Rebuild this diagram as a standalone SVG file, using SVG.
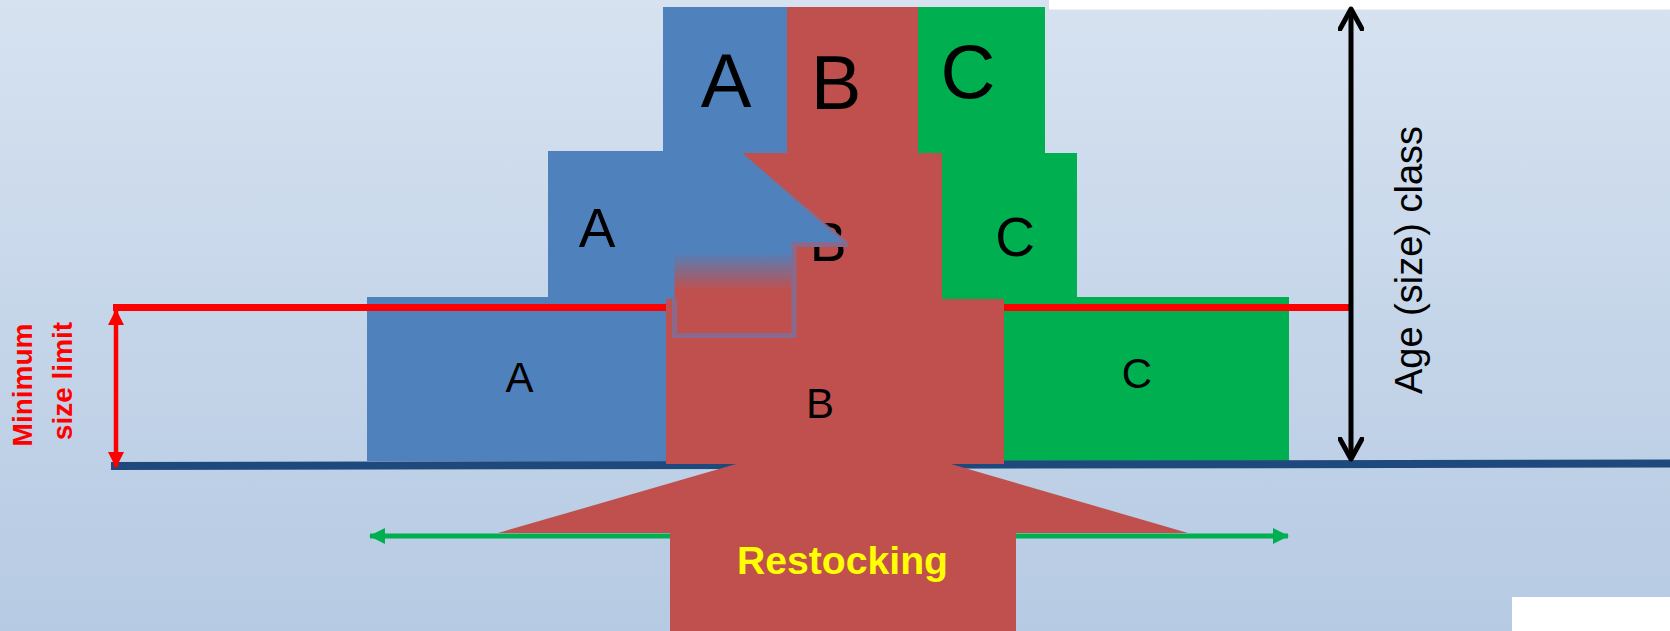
<svg xmlns="http://www.w3.org/2000/svg" width="1670" height="631" viewBox="0 0 1670 631">
  <defs>
    <linearGradient id="bg" x1="0" y1="0" x2="0" y2="1">
      <stop offset="0" stop-color="#d6e2f0"/>
      <stop offset="1" stop-color="#b6cae3"/>
    </linearGradient>
    <linearGradient id="blend" x1="0" y1="245" x2="0" y2="336" gradientUnits="userSpaceOnUse">
      <stop offset="0.08" stop-color="#4f81bd"/>
      <stop offset="0.5" stop-color="#c0504d"/>
    </linearGradient>
    <linearGradient id="edgeFade" x1="740" y1="153" x2="848" y2="244" gradientUnits="userSpaceOnUse">
      <stop offset="0.2" stop-color="#8a6a8c" stop-opacity="0"/>
      <stop offset="1" stop-color="#8a6a8c" stop-opacity="1"/>
    </linearGradient>
    <marker id="redHead" viewBox="0 0 16 16" refX="15" refY="8" markerWidth="16" markerHeight="16" markerUnits="userSpaceOnUse" orient="auto-start-reverse">
      <path d="M0,0 L16,8 L0,16 Z" fill="#ff0000"/>
    </marker>
    <marker id="greenHead" viewBox="0 0 16 16" refX="15" refY="8" markerWidth="16" markerHeight="16" markerUnits="userSpaceOnUse" orient="auto-start-reverse">
      <path d="M0,0 L16,8 L0,16 Z" fill="#00b050"/>
    </marker>
    <marker id="blackHead" viewBox="0 0 26 26" refX="22" refY="13" markerWidth="26" markerHeight="26" markerUnits="userSpaceOnUse" orient="auto-start-reverse">
      <path d="M2,2 L22,13 L2,24" fill="none" stroke="#000" stroke-width="5" stroke-linecap="round" stroke-linejoin="round"/>
    </marker>
  </defs>
  <style>
    .blue { fill: #4f81bd; }
    .red { fill: #c0504d; }
    .green { fill: #00b050; }
    .lbl { font-family: "Liberation Sans", Arial, sans-serif; fill: #000; text-anchor: middle; }
  </style>

  <!-- backdrop -->
  <rect x="0" y="0" width="1670" height="631" fill="url(#bg)"/>
  <rect x="1049" y="0" width="621" height="9.5" fill="#fff"/>
  <rect x="1512" y="597" width="158" height="34" fill="#fff"/>

  <!-- class A stack -->
  <g id="classA">
    <rect class="blue" x="663" y="7" width="124" height="146"/>
    <rect class="blue" x="367" y="297" width="299" height="164"/>
    <text class="lbl" x="726" y="107" font-size="76">A</text>
    <text class="lbl" x="519.5" y="392" font-size="42">A</text>
  </g>

  <!-- class C stack -->
  <g id="classC">
    <rect class="green" x="918" y="7" width="127" height="146"/>
    <rect class="green" x="942" y="153" width="135" height="146"/>
    <rect class="green" x="1004" y="297" width="285" height="164"/>
    <text class="lbl" x="968" y="98" font-size="76">C</text>
    <text class="lbl" x="1015" y="256" font-size="55">C</text>
    <text class="lbl" x="1137" y="388" font-size="42">C</text>
  </g>

  <!-- class B upper tiers -->
  <g id="classB-upper">
    <rect class="red" x="787" y="7" width="131" height="146"/>
    <rect class="red" x="737" y="153" width="205" height="146"/>
    <text class="lbl" x="836" y="109" font-size="76">B</text>
    <text class="lbl" x="828" y="261" font-size="55">B</text>
  </g>

  <!-- connectors: baseline, minimum size limit, axis arrows -->
  <g id="connectors">
    <line x1="111" y1="466" x2="1670" y2="463.5" stroke="#1f497d" stroke-width="8"/>
    <line x1="113" y1="307.5" x2="1351" y2="307.5" stroke="#ff0000" stroke-width="7"/>
    <line x1="116" y1="310" x2="116" y2="467" stroke="#ff0000" stroke-width="4.5" marker-start="url(#redHead)" marker-end="url(#redHead)"/>
    <line x1="1351" y1="9" x2="1351" y2="459" stroke="#000" stroke-width="5" marker-start="url(#blackHead)" marker-end="url(#blackHead)"/>
  </g>

  <!-- class A middle tier, overlapping B -->
  <g id="classA-middle">
    <path class="blue" d="M548,151 H740 L848,244 H794 V299 H548 V297 Z"/>
    <text class="lbl" x="597" y="247" font-size="55">A</text>
  </g>

  <!-- class B lower tier and restocking inflow -->
  <g id="classB-lower">
    <rect class="red" x="666" y="299" width="338" height="165"/>
    <polygon class="red" points="743,462 944,462 1188,533 1016,533 1016,631 670,631 670,533 498,533"/>
    <rect x="674.5" y="245" width="119.5" height="90.5" fill="url(#blend)"/>
    <path d="M674.5,299 V335.5 H794 V244.5 H848" fill="none" stroke="#8a6a8c" stroke-width="5"/>
    <line x1="740" y1="153" x2="848" y2="244" stroke="url(#edgeFade)" stroke-width="3"/>
    <text class="lbl" x="820" y="418" font-size="42">B</text>
  </g>

  <!-- restocking spread -->
  <g id="spread">
    <line x1="370" y1="536" x2="670" y2="536" stroke="#00b050" stroke-width="5" marker-start="url(#greenHead)"/>
    <line x1="1016" y1="536" x2="1288" y2="536" stroke="#00b050" stroke-width="5" marker-end="url(#greenHead)"/>
    <text x="842.5" y="574" font-family="'Liberation Sans', Arial, sans-serif" font-weight="bold" font-size="38" fill="#ffff00" text-anchor="middle" textLength="211" lengthAdjust="spacingAndGlyphs">Restocking</text>
  </g>

  <!-- axis captions -->
  <g id="captions">
    <text transform="translate(32,385) rotate(-90)" font-family="'Liberation Sans', Arial, sans-serif" font-weight="bold" font-size="28" fill="#ff0000" text-anchor="middle">Minimum</text>
    <text transform="translate(72,381) rotate(-90)" font-family="'Liberation Sans', Arial, sans-serif" font-weight="bold" font-size="28" fill="#ff0000" text-anchor="middle">size limit</text>
    <text class="lbl" transform="translate(1422,260) rotate(-90)" font-size="38">Age (size) class</text>
  </g>
</svg>
